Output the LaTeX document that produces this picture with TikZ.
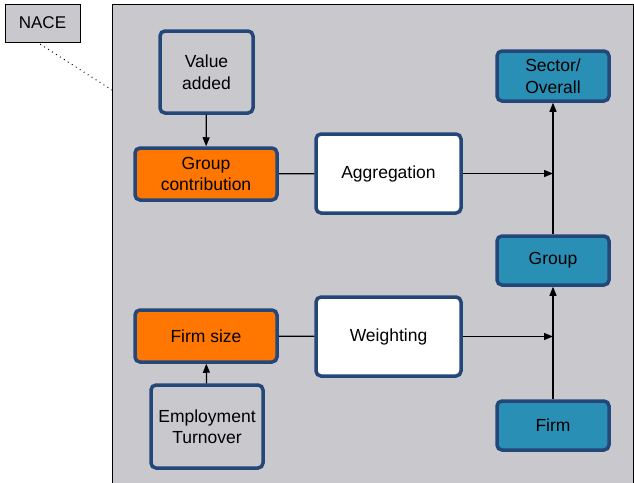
\documentclass[tikz,border=0pt]{standalone}
\usepackage{fontspec}
\setmainfont{Liberation Sans}
\usetikzlibrary{arrows.meta}
\definecolor{panelgrey}{HTML}{C9C8CD}
\definecolor{edgeblue}{HTML}{24477A}
\definecolor{fillorange}{HTML}{FF7600}
\definecolor{fillteal}{HTML}{2A8FB4}
\tikzset{
  box/.style={draw=edgeblue, line width=3.5pt, rounded corners=5pt,
    align=center, inner sep=0pt, font=\fontsize{17.5}{21.5}\selectfont},
  greybox/.style={box, fill=panelgrey},
  orangebox/.style={box, fill=fillorange},
  whitebox/.style={box, fill=white},
  tealbox/.style={box, fill=fillteal},
  link/.style={line width=1.2pt},
  flow/.style={line width=1.2pt, -{Triangle[length=9pt,width=7pt]}}
}
\begin{document}
\begin{tikzpicture}[x=1pt,y=-1pt]
\useasboundingbox (0,0) rectangle (634,482);
% panel
\draw[fill=panelgrey, line width=0.8pt] (112,4) rectangle (633,495);
\node[draw, fill=panelgrey, line width=0.8pt, minimum width=75pt, minimum height=38pt,
  inner sep=0pt, font=\fontsize{17}{20}\selectfont] (nace) at (42.5,23) {NACE};
\coordinate (panelcorner) at (112,90);
\draw[line width=1.3pt, line cap=round, dash pattern=on 0.1pt off 4.6pt]
  (nace.south) ++(-2,2) -- (panelcorner);

% left column
\node[greybox, minimum width=93pt, minimum height=82pt] (value) at (206.5,72) {Value\\added};
\node[orangebox, minimum width=142pt, minimum height=52pt] (gcontrib) at (206,174) {Group\\contribution};
\node[orangebox, minimum width=142pt, minimum height=52pt] (fsize) at (206,336) {Firm size};
\node[greybox, minimum width=112pt, minimum height=83pt] (employ) at (207,426.5) {Employment\\Turnover};

% middle column
\node[whitebox, minimum width=145pt, minimum height=79pt] (aggr) at (388.5,173.5) {Aggregation};
\node[whitebox, minimum width=145pt, minimum height=79pt] (weight) at (388.5,336.5) {Weighting};

% right column
\node[tealbox, minimum width=112pt, minimum height=50pt] (sector) at (553,76) {Sector/\\Overall};
\node[tealbox, minimum width=112pt, minimum height=49pt] (group) at (553,260.5) {Group};
\node[tealbox, minimum width=112pt, minimum height=49pt] (firm) at (553,425.5) {Firm};

% connectors
\draw[flow] (value) -- (gcontrib);
\draw[flow] (employ) -- (fsize);
\draw[link] (gcontrib) -- (aggr);
\draw[link] (fsize) -- (weight);
\draw[flow] (aggr.east) -- (aggr.east -| sector.south);
\draw[flow] (weight.east) -- (weight.east -| group.south);
\draw[flow] (group.north) -- (sector.south);
\draw[flow] (firm.north) -- (group.south);
\end{tikzpicture}
\end{document}
